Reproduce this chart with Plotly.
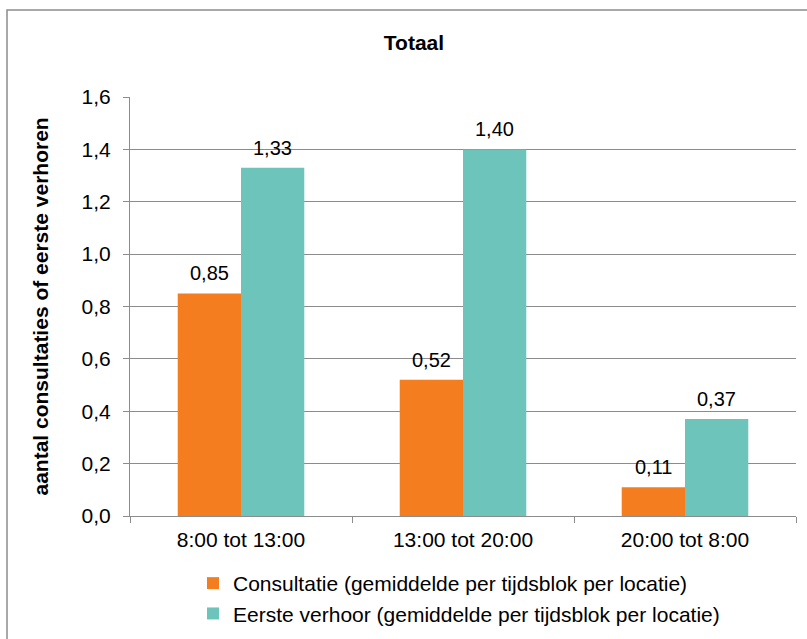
import plotly.graph_objects as go

categories = ["8:00 tot 13:00", "13:00 tot 20:00", "20:00 tot 8:00"]
consultatie = [0.85, 0.52, 0.11]
eerste_verhoor = [1.33, 1.40, 0.37]
series_names = ["Consultatie (gemiddelde per tijdsblok per locatie)",
                "Eerste verhoor (gemiddelde per tijdsblok per locatie)"]
labels_consultatie = ["0,85", "0,52", "0,11"]
labels_verhoor = ["1,33", "1,40", "0,37"]
y_ticks = [0.0, 0.2, 0.4, 0.6, 0.8, 1.0, 1.2, 1.4, 1.6]

FONT = "Liberation Sans, Arial, sans-serif"
ORANGE = "#F47D20"
TEAL = "#6CC4BA"
GRAY = "#8C8C8C"
FS = 21

W, H = 807, 639
L, R, T, B = 130, 11, 97, 123
PW, PH = W - L - R, H - T - B

fig = go.Figure()
fig.add_trace(go.Bar(x=categories, y=consultatie, name=series_names[0],
                     marker=dict(color=ORANGE, line=dict(width=0)),
                     legendgroup="a"))
fig.add_trace(go.Bar(x=categories, y=eerste_verhoor, name=series_names[1],
                     marker=dict(color=TEAL, line=dict(width=0)),
                     legendgroup="b"))

annotations = []
for i, c in enumerate(categories):
    for vals, labs, off in ((consultatie, labels_consultatie, -0.143),
                            (eerste_verhoor, labels_verhoor, 0.143)):
        annotations.append(dict(x=i + off, y=vals[i], xref="x", yref="y",
                                text=labs[i], showarrow=False,
                                yanchor="bottom", yshift=7,
                                font=dict(family=FONT, size=20, color="#000")))

annotations.append(dict(text="<b>aantal consultaties of eerste verhoren</b>",
                        x=(40 - L) / PW, y=0.5, xref="paper", yref="paper",
                        textangle=-90, showarrow=False,
                        xanchor="center", yanchor="middle",
                        font=dict(family=FONT, size=FS, color="#000")))

fig.update_layout(
    width=W, height=H,
    margin=dict(l=L, r=R, t=T, b=B, autoexpand=False),
    paper_bgcolor="white", plot_bgcolor="white",
    separators=",.",
    barmode="group", bargap=0.43, bargroupgap=0,
    font=dict(family=FONT, size=FS, color="#000"),
    title=dict(text="<b>Totaal</b>", x=414 / W, xanchor="center",
               y=1 - 43 / H, yanchor="middle", xref="container", yref="container",
               font=dict(family=FONT, size=FS, color="#000")),
    showlegend=True,
    legend=dict(x=193 / W, y=1 - 563 / H, xref="container", yref="container",
                xanchor="left", yanchor="top",
                traceorder="grouped", tracegroupgap=0,
                font=dict(family=FONT, size=FS, color="#000"),
                bgcolor="rgba(0,0,0,0)"),
    xaxis=dict(type="category", showline=True, linecolor=GRAY, linewidth=1,
               ticks="outside", tickson="boundaries", ticklen=6, tickcolor=GRAY,
               showgrid=False, tickfont=dict(family=FONT, size=FS, color="#000"),
               ticklabelstandoff=5, automargin=False,
               range=[-0.5, 2.5]),
    yaxis=dict(range=[0, 1.6], tickvals=y_ticks, tickformat=".1f",
               showline=True, linecolor=GRAY, linewidth=1,
               ticks="outside", ticklen=6, tickcolor=GRAY,
               showgrid=True, gridcolor=GRAY, gridwidth=1,
               zeroline=False, automargin=False,
               ticklabelstandoff=8,
               tickfont=dict(family=FONT, size=FS, color="#000")),
    annotations=annotations,
    shapes=[dict(type="rect", xref="paper", yref="paper",
                 x0=(7 - L) / PW, x1=1.2, y0=-0.5, y1=(T + PH - 10) / PH,
                 line=dict(color=GRAY, width=1.5), fillcolor="rgba(0,0,0,0)",
                 layer="below")],
)

fig.write_html("out.html", config={"displayModeBar": False},
               post_script="document.body.style.margin='0';document.body.style.padding='0';")
